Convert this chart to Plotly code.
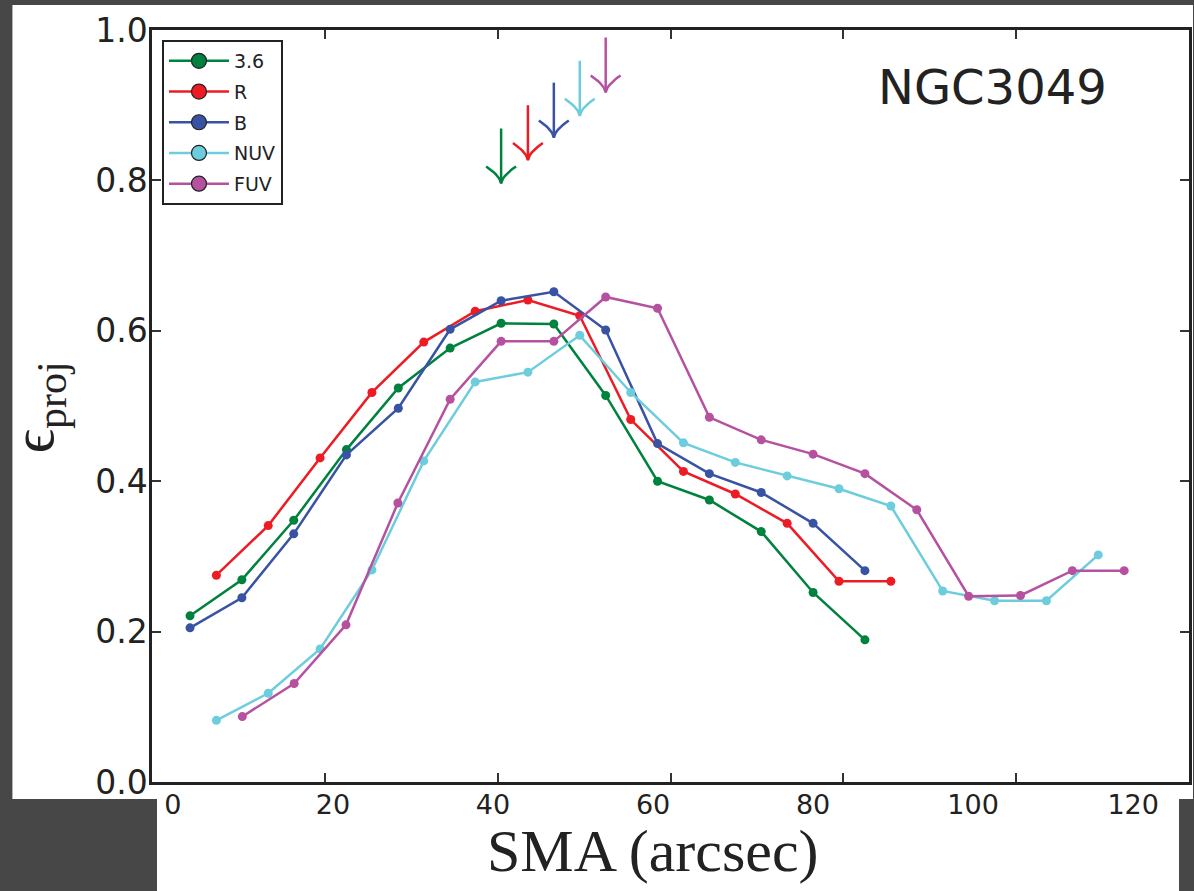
import plotly.graph_objects as go

# ---------------- data ----------------
names = ["3.6", "R", "B", "NUV", "FUV"]
colors = ["#00823f", "#ed1c24", "#3953a4", "#6dcddd", "#b5519f"]

x_36 = [4.4, 10.4, 16.4, 22.5, 28.5, 34.5, 40.4, 46.5, 52.5, 58.5, 64.5, 70.5, 76.5, 82.5]
y_36 = [0.221, 0.269, 0.348, 0.442, 0.524, 0.577, 0.610, 0.609, 0.514, 0.400, 0.375, 0.333, 0.252, 0.189]

x_R = [7.45, 13.45, 19.45, 25.45, 31.45, 37.4, 43.5, 49.5, 55.4, 61.5, 67.5, 73.5, 79.5, 85.5]
y_R = [0.275, 0.341, 0.431, 0.518, 0.585, 0.626, 0.641, 0.620, 0.482, 0.413, 0.383, 0.344, 0.267, 0.267]

x_B = [4.4, 10.4, 16.4, 22.5, 28.5, 34.5, 40.4, 46.5, 52.5, 58.5, 64.5, 70.5, 76.5, 82.5]
y_B = [0.205, 0.245, 0.330, 0.435, 0.497, 0.602, 0.640, 0.652, 0.601, 0.450, 0.410, 0.385, 0.344, 0.281]

x_NUV = [7.45, 13.45, 19.45, 25.45, 31.45, 37.4, 43.5, 49.5, 55.4, 61.5, 67.5, 73.5, 79.5, 85.5,
         91.5, 97.5, 103.5, 109.5]
y_NUV = [0.082, 0.118, 0.177, 0.282, 0.427, 0.532, 0.545, 0.594, 0.518, 0.451, 0.425, 0.407, 0.390,
         0.367, 0.254, 0.241, 0.241, 0.302]

x_FUV = [10.45, 16.45, 22.45, 28.45, 34.5, 40.4, 46.5, 52.5, 58.5, 64.5, 70.5, 76.5, 82.5, 88.5,
         94.5, 100.5, 106.5, 112.5]
y_FUV = [0.087, 0.131, 0.209, 0.371, 0.509, 0.586, 0.586, 0.645, 0.630, 0.485, 0.455, 0.436, 0.410,
         0.362, 0.247, 0.248, 0.281, 0.281]

series_x = [x_36, x_R, x_B, x_NUV, x_FUV]
series_y = [y_36, y_R, y_B, y_NUV, y_FUV]

# arrows marking the peak of each profile (tip height of each arrow)
arrow_tip = [0.796, 0.827, 0.857, 0.886, 0.917]
arrow_len = 0.073

x_ticks = [20, 40, 60, 80, 100]
x_label_vals = [0, 20, 40, 60, 80, 100, 120]
y_ticks = [0.0, 0.2, 0.4, 0.6, 0.8, 1.0]
y_labels = ["0.0", "0.2", "0.4", "0.6", "0.8", "1.0"]

# ---------------- figure ----------------
W, H = 1194, 891
ML, MR, MT, MB = 152, 2, 30, 109
PW, PH = W - ML - MR, H - MT - MB
X_RANGE = [0, 120]
Y_RANGE = [0, 1]
PX_PER_X = PW / (X_RANGE[1] - X_RANGE[0])
PX_PER_Y = PH / (Y_RANGE[1] - Y_RANGE[0])


def px_x(p):
    return (p - ML) / PW


def px_y(p):
    return (H - MB - p) / PH


fig = go.Figure()

for xs, ys, c in zip(series_x, series_y, colors):
    fig.add_trace(go.Scatter(
        x=xs, y=ys, mode="lines+markers",
        line=dict(color=c, width=2.5),
        marker=dict(color=c, size=9, line=dict(width=0)),
        showlegend=False, hoverinfo="skip"))

# arrows (open, curved barbs) marking each profile's peak
HEAD_HALF_W = 15 / PX_PER_X
HEAD_H = 17 / PX_PER_Y
steps = [i / 8 for i in range(9)]
for xs, ys, c, tip in zip(series_x, series_y, colors, arrow_tip):
    k = ys.index(max(ys))
    xp = xs[k]
    ax_ = [xp, xp, None]
    ay_ = [tip + arrow_len, tip, None]
    for u in reversed(steps):
        ax_.append(xp - HEAD_HALF_W * u)
        ay_.append(tip + HEAD_H * u ** 0.6)
    for u in steps[1:]:
        ax_.append(xp + HEAD_HALF_W * u)
        ay_.append(tip + HEAD_H * u ** 0.6)
    fig.add_trace(go.Scatter(
        x=ax_, y=ay_, mode="lines", line=dict(color=c, width=2.5),
        showlegend=False, hoverinfo="skip"))

# legend entries (markers with dark outline, as in the reference legend)
for i, (n, c) in enumerate(zip(names, colors)):
    fig.add_trace(go.Scatter(
        x=[None], y=[None], mode="lines+markers", name=n,
        legendgroup=f"g{i}",
        line=dict(color=c, width=2.5),
        marker=dict(color=c, size=15, line=dict(color="#222222", width=1.2)),
        xaxis="x2", showlegend=True))

annotations = [
    dict(x=px_x(995), y=px_y(86.5), xref="paper", yref="paper",
         text="NGC3049", showarrow=False, xanchor="center", yanchor="middle",
         font=dict(family="DejaVu Sans", size=48, color="#222222")),
    dict(x=60, y=px_y(851), xref="x2", yref="paper",
         text="SMA (arcsec)", showarrow=False, xanchor="center", yanchor="middle",
         font=dict(family="Liberation Serif, DejaVu Serif, serif", size=60, color="#222222")),
    dict(x=px_x(37), y=px_y(407), xref="paper", yref="paper",
         text="ϵ<sub>proj</sub>", showarrow=False, textangle=-90,
         xanchor="center", yanchor="middle",
         font=dict(family="Liberation Serif, DejaVu Serif, serif", size=60, color="#222222")),
]

shapes = [
    dict(type="rect", xref="paper", yref="paper", layer="below",
         x0=px_x(12), x1=px_x(1196), y0=px_y(799), y1=px_y(5),
         fillcolor="white", line=dict(width=0)),
    dict(type="rect", xref="paper", yref="paper", layer="below",
         x0=px_x(157), x1=px_x(1182), y0=px_y(893), y1=px_y(798),
         fillcolor="white", line=dict(width=0)),
]

fig.update_layout(
    width=W, height=H,
    margin=dict(l=ML, r=MR, t=MT, b=MB, pad=0),
    paper_bgcolor="#474747", plot_bgcolor="white",
    font=dict(family="DejaVu Sans", color="#222222"),
    xaxis=dict(range=X_RANGE, tickvals=x_ticks, showticklabels=False,
               ticks="inside", ticklen=9, tickwidth=1.5, tickcolor="#333333",
               showline=True, linecolor="#222222", linewidth=2.5, mirror="ticks",
               showgrid=False, zeroline=False),
    xaxis2=dict(overlaying="x", anchor="y", side="bottom",
                range=[(ML - 173) / 8.025, (ML + PW - 173) / 8.025],
                tickvals=x_label_vals, ticktext=[str(v) for v in x_label_vals],
                ticks="", showline=False, showgrid=False, zeroline=False,
                ticklabelstandoff=4,
                tickfont=dict(family="DejaVu Sans", size=27, color="#222222")),
    yaxis=dict(range=Y_RANGE, tickvals=y_ticks, ticktext=y_labels,
               ticks="inside", ticklen=9, tickwidth=1.5, tickcolor="#333333",
               showline=True, linecolor="#222222", linewidth=2.5, mirror="ticks",
               showgrid=False, zeroline=False, ticklabelstandoff=-5,
               tickfont=dict(family="DejaVu Sans", size=33, color="#222222")),
    legend=dict(x=px_x(162), y=px_y(40), xanchor="left", yanchor="top",
                bgcolor="white", bordercolor="#222222", borderwidth=2,
                font=dict(family="DejaVu Sans", size=19, color="#222222"),
                traceorder="grouped", tracegroupgap=3, itemwidth=60),
    annotations=annotations,
    shapes=shapes,
)

fig.write_html("out.html",
               config={"displayModeBar": False},
               post_script="document.body.style.margin='0';document.body.style.padding='0';")
